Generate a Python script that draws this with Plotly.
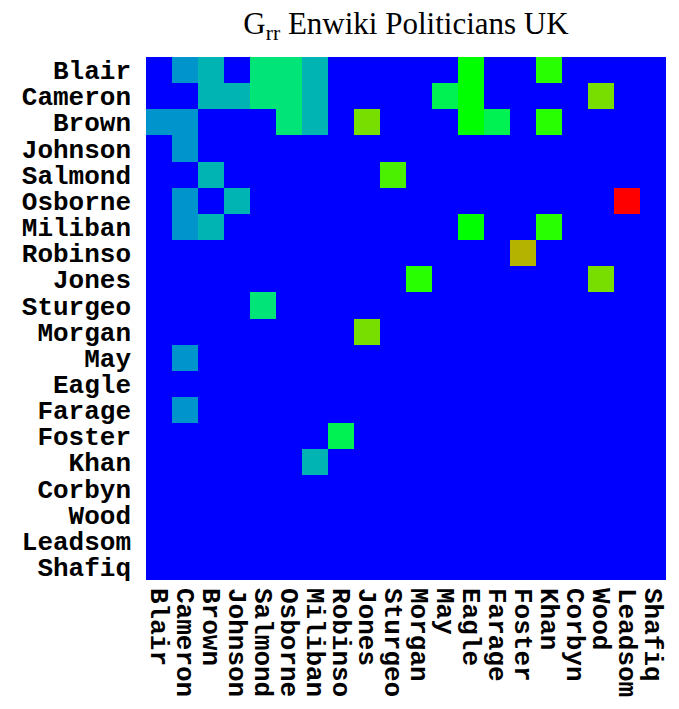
import plotly.graph_objects as go

names = ["Blair", "Cameron", "Brown", "Johnson", "Salmond", "Osborne", "Miliban",
         "Robinso", "Jones", "Sturgeo", "Morgan", "May", "Eagle", "Farage",
         "Foster", "Khan", "Corbyn", "Wood", "Leadsom", "Shafiq"]

# Grr values (row = source, column = target)
grr = [
    [0, .25, .30, 0, .40, .40, .30, 0, 0, 0, 0, 0, .50, 0, 0, .55, 0, 0, 0, 0],
    [0, 0, .30, .30, .40, .40, .30, 0, 0, 0, 0, .45, .50, 0, 0, 0, 0, .65, 0, 0],
    [.25, .25, 0, 0, 0, .40, .30, 0, .65, 0, 0, 0, .50, .45, 0, .55, 0, 0, 0, 0],
    [0, .25, 0, 0, 0, 0, 0, 0, 0, 0, 0, 0, 0, 0, 0, 0, 0, 0, 0, 0],
    [0, 0, .30, 0, 0, 0, 0, 0, 0, .58, 0, 0, 0, 0, 0, 0, 0, 0, 0, 0],
    [0, .25, 0, .30, 0, 0, 0, 0, 0, 0, 0, 0, 0, 0, 0, 0, 0, 0, 1.0, 0],
    [0, .25, .30, 0, 0, 0, 0, 0, 0, 0, 0, 0, .50, 0, 0, .55, 0, 0, 0, 0],
    [0, 0, 0, 0, 0, 0, 0, 0, 0, 0, 0, 0, 0, 0, .75, 0, 0, 0, 0, 0],
    [0, 0, 0, 0, 0, 0, 0, 0, 0, 0, .55, 0, 0, 0, 0, 0, 0, .65, 0, 0],
    [0, 0, 0, 0, .40, 0, 0, 0, 0, 0, 0, 0, 0, 0, 0, 0, 0, 0, 0, 0],
    [0, 0, 0, 0, 0, 0, 0, 0, .65, 0, 0, 0, 0, 0, 0, 0, 0, 0, 0, 0],
    [0, .25, 0, 0, 0, 0, 0, 0, 0, 0, 0, 0, 0, 0, 0, 0, 0, 0, 0, 0],
    [0, 0, 0, 0, 0, 0, 0, 0, 0, 0, 0, 0, 0, 0, 0, 0, 0, 0, 0, 0],
    [0, .25, 0, 0, 0, 0, 0, 0, 0, 0, 0, 0, 0, 0, 0, 0, 0, 0, 0, 0],
    [0, 0, 0, 0, 0, 0, 0, .45, 0, 0, 0, 0, 0, 0, 0, 0, 0, 0, 0, 0],
    [0, 0, 0, 0, 0, 0, .30, 0, 0, 0, 0, 0, 0, 0, 0, 0, 0, 0, 0, 0],
    [0, 0, 0, 0, 0, 0, 0, 0, 0, 0, 0, 0, 0, 0, 0, 0, 0, 0, 0, 0],
    [0, 0, 0, 0, 0, 0, 0, 0, 0, 0, 0, 0, 0, 0, 0, 0, 0, 0, 0, 0],
    [0, 0, 0, 0, 0, 0, 0, 0, 0, 0, 0, 0, 0, 0, 0, 0, 0, 0, 0, 0],
    [0, 0, 0, 0, 0, 0, 0, 0, 0, 0, 0, 0, 0, 0, 0, 0, 0, 0, 0, 0],
]

colorscale = [
    [0.00, "rgb(0,0,255)"],
    [0.25, "rgb(0,148,204)"],
    [0.30, "rgb(0,180,180)"],
    [0.40, "rgb(0,228,120)"],
    [0.45, "rgb(0,242,82)"],
    [0.50, "rgb(0,255,0)"],
    [0.55, "rgb(40,255,0)"],
    [0.58, "rgb(75,240,0)"],
    [0.65, "rgb(120,222,0)"],
    [0.75, "rgb(180,180,0)"],
    [1.00, "rgb(255,0,0)"],
]

fig = go.Figure(go.Heatmap(
    z=grr, x=names, y=names,
    colorscale=colorscale, zmin=0, zmax=1,
    showscale=False, hoverongaps=False,
))

tickfont = dict(family="Liberation Mono", size=26, color="black", weight="bold")

# page body has an 8px margin, so the figure is 8px smaller and offset
fig.update_layout(
    width=671, height=701,
    margin=dict(l=138, r=13, t=49, b=129),
    paper_bgcolor="white", plot_bgcolor="white",
    title=dict(
        text="G<sub>rr</sub> Enwiki Politicians UK",
        font=dict(family="Liberation Serif", size=31, color="black"),
        x=0.5, xref="paper", xanchor="center",
        y=1 - 15 / 701, yref="container", yanchor="middle",
    ),
    xaxis=dict(tickangle=90, tickfont=tickfont, showgrid=False, zeroline=False,
               tickmode="array", tickvals=names, ticktext=names,
               ticks="", ticklabelstandoff=7, side="bottom", automargin=False),
    yaxis=dict(autorange="reversed", tickfont=tickfont, showgrid=False, zeroline=False,
               tickmode="array", tickvals=names, ticktext=names,
               ticks="", ticklabelstandoff=14, automargin=False),
)

fig.write_html("out.html")
